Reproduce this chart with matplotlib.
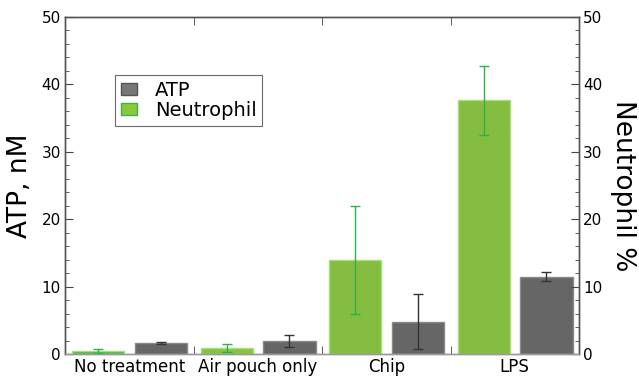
import matplotlib
matplotlib.use("Agg")
import matplotlib.pyplot as plt
import numpy as np
from matplotlib.ticker import MultipleLocator
from matplotlib.patches import Patch

plt.rcParams['font.family'] = ['DejaVu Sans']

categories = ["No treatment", "Air pouch only", "Chip", "LPS"]
neutrophil = [0.4, 0.9, 13.9, 37.7]
neutrophil_lo = [0.2, 0.3, 6.0, 32.5]
neutrophil_hi = [0.8, 1.5, 21.9, 42.8]
atp = [1.65, 1.9, 4.8, 11.4]
atp_lo = [1.55, 1.05, 0.8, 10.9]
atp_hi = [1.75, 2.8, 8.9, 12.1]

fig = plt.figure(figsize=(6.39, 3.79), dpi=100)
ax = fig.add_axes([65/639, 1-354/379, (579-65)/639, (354-17)/379])

x = np.arange(len(categories))
w = 0.405
gx = x + 0.257
ax_ = x + 0.747

n = np.array(neutrophil); a = np.array(atp)
n_err = [n - np.array(neutrophil_lo), np.array(neutrophil_hi) - n]
a_err = [a - np.array(atp_lo), np.array(atp_hi) - a]

green_fill = ['#4cb848', '#86c440', '#84bd3f', '#84bd3f']
ax.bar(gx, n, width=w, color=green_fill, edgecolor='#a6de7c', linewidth=1.0, zorder=2)
ax.bar(ax_, a, width=w, color='#666666', edgecolor='#8a8a8a', linewidth=1.0, zorder=2)
ax.errorbar(gx, n, yerr=n_err, fmt='none', ecolor='#2bb24c', elinewidth=1.0, capsize=3.5, capthick=1.0, zorder=3)
ax.errorbar(ax_, a, yerr=a_err, fmt='none', ecolor='#333333', elinewidth=1.0, capsize=3.5, capthick=1.0, zorder=3)

handles = [Patch(facecolor='#777777', edgecolor='#555555', label='ATP'),
           Patch(facecolor='#8dc63f', edgecolor='#3cb44b', label='Neutrophil')]
leg = ax.legend(handles=handles, loc='upper left', bbox_to_anchor=(0.097, 0.828),
                fontsize=14, frameon=True, fancybox=False, edgecolor='#444444',
                handlelength=0.85, handleheight=0.6, handletextpad=0.9, borderpad=0.3,
                labelspacing=0.05, borderaxespad=0)
leg.get_frame().set_linewidth(0.8)

ax.set_xlim(0, 4)
ax.set_ylim(0, 50)
ax.set_xticks(x + 0.5)
ax.set_xticklabels(categories, fontsize=12)
ax.set_xticks(np.arange(0, 5), minor=True)
ax.tick_params(axis='x', which='major', length=0, pad=3)
ax.tick_params(axis='x', which='minor', direction='in', length=6, top=True, bottom=True, color='#444444')

ax.yaxis.set_major_locator(MultipleLocator(10))
ax.yaxis.set_minor_locator(MultipleLocator(2))
ax.tick_params(axis='y', which='major', direction='in', length=6, labelsize=11, pad=3, color='#444444')
ax.tick_params(axis='y', which='minor', direction='in', length=3, color='#444444')
ax.set_ylabel("ATP, nM", fontsize=19, labelpad=6)

ax2 = ax.twinx()
ax2.set_ylim(0, 50)
ax2.yaxis.set_major_locator(MultipleLocator(10))
ax2.yaxis.set_minor_locator(MultipleLocator(2))
ax2.tick_params(axis='y', which='major', direction='in', length=6, labelsize=11, pad=3, color='#444444')
ax2.tick_params(axis='y', which='minor', direction='in', length=3, color='#444444')
ax2.set_ylabel("Neutrophil %", fontsize=19, rotation=270, labelpad=24)

for a_ in (ax, ax2):
    for s in a_.spines.values():
        s.set_color('#555555')
        s.set_linewidth(1.0)
    a_.spines['bottom'].set_color('#999999')

fig.savefig("out.png", dpi=100)
